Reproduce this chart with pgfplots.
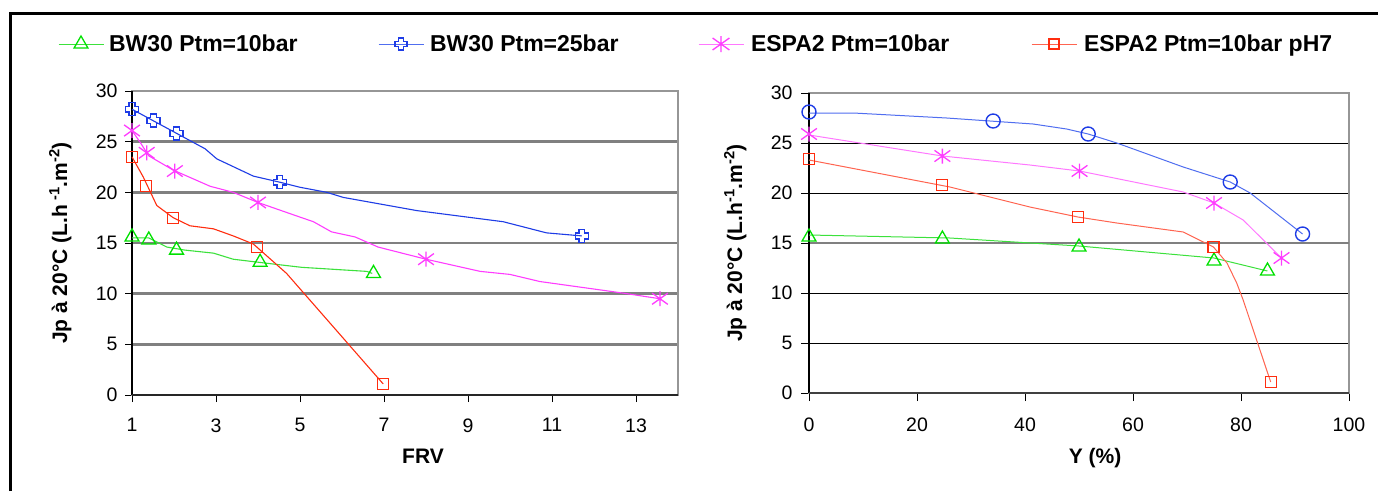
\documentclass[border=0pt]{standalone}
\usepackage{pgfplots}
\pgfplotsset{compat=1.18}
\usepackage{fontspec}
\setmainfont{Liberation Sans}
\definecolor{cgreen}{RGB}{0,225,0}
\definecolor{cgreenl}{RGB}{60,225,60}
\definecolor{cblue}{RGB}{30,60,230}
\definecolor{cbluel}{RGB}{80,110,240}
\definecolor{cmag}{RGB}{255,60,255}
\definecolor{cmagl}{RGB}{255,120,255}
\definecolor{cred}{RGB}{255,45,15}
\definecolor{credl}{RGB}{255,100,80}
\definecolor{gridgray}{RGB}{128,128,128}
\definecolor{bordergray}{RGB}{150,150,150}

\pgfdeclareplotmark{plusoutline}{%
  \pgfpathmoveto{\pgfqpoint{-0.45\pgfplotmarksize}{\pgfplotmarksize}}%
  \pgfpathlineto{\pgfqpoint{0.45\pgfplotmarksize}{\pgfplotmarksize}}%
  \pgfpathlineto{\pgfqpoint{0.45\pgfplotmarksize}{0.45\pgfplotmarksize}}%
  \pgfpathlineto{\pgfqpoint{\pgfplotmarksize}{0.45\pgfplotmarksize}}%
  \pgfpathlineto{\pgfqpoint{\pgfplotmarksize}{-0.45\pgfplotmarksize}}%
  \pgfpathlineto{\pgfqpoint{0.45\pgfplotmarksize}{-0.45\pgfplotmarksize}}%
  \pgfpathlineto{\pgfqpoint{0.45\pgfplotmarksize}{-\pgfplotmarksize}}%
  \pgfpathlineto{\pgfqpoint{-0.45\pgfplotmarksize}{-\pgfplotmarksize}}%
  \pgfpathlineto{\pgfqpoint{-0.45\pgfplotmarksize}{-0.45\pgfplotmarksize}}%
  \pgfpathlineto{\pgfqpoint{-\pgfplotmarksize}{-0.45\pgfplotmarksize}}%
  \pgfpathlineto{\pgfqpoint{-\pgfplotmarksize}{0.45\pgfplotmarksize}}%
  \pgfpathlineto{\pgfqpoint{-0.45\pgfplotmarksize}{0.45\pgfplotmarksize}}%
  \pgfpathclose\pgfusepathqstroke}
\pgfdeclareplotmark{xstar}{%
  \pgfpathmoveto{\pgfqpoint{0pt}{\pgfplotmarksize}}%
  \pgfpathlineto{\pgfqpoint{0pt}{-\pgfplotmarksize}}%
  \pgfpathmoveto{\pgfqpoint{-1.05\pgfplotmarksize}{0.75\pgfplotmarksize}}%
  \pgfpathlineto{\pgfqpoint{1.05\pgfplotmarksize}{-0.75\pgfplotmarksize}}%
  \pgfpathmoveto{\pgfqpoint{-1.05\pgfplotmarksize}{-0.75\pgfplotmarksize}}%
  \pgfpathlineto{\pgfqpoint{1.05\pgfplotmarksize}{0.75\pgfplotmarksize}}%
  \pgfusepathqstroke}

\pgfplotsset{
  myaxis/.style={
    scale only axis,
    ymin=0, ymax=30, ytick={0,5,...,30},
    tick align=outside, xtick pos=left, ytick pos=left,
    major tick length=7pt,
    tick style={black, line width=1pt},
    axis line style={bordergray, line width=1.5pt},
    ymajorgrids,
    ticklabel style={font=\fontsize{19.5}{22}\selectfont},
    /pgf/number format/assume math mode=true,
    xticklabel style={yshift=-13pt},
    clip=false,
  },
  gmark/.style={only marks, mark=triangle, mark size=8pt, cgreen, mark options={line width=1.3pt}, forget plot},
  bmark/.style={only marks, mark=plusoutline, mark size=6.5pt, cblue, mark options={line width=1.4pt}, forget plot},
  bcirc/.style={only marks, mark=o, mark size=7pt, cblue, mark options={line width=1.4pt}, forget plot},
  mmark/.style={only marks, mark=xstar, mark size=7.5pt, cmag, mark options={line width=1.3pt}, forget plot},
  rmark/.style={only marks, mark=square, mark size=5.5pt, cred, mark options={line width=1.3pt}, forget plot},
}

\begin{document}
\begin{tikzpicture}[x=1pt,y=1pt]
\useasboundingbox (0,0) rectangle (1378,-491);
\fill[white] (0,0) rectangle (1378,-491);
\draw[black, line width=3pt] (10,-491) -- (10,-13) -- (1378,-13);

% ---------------- left axis ----------------
\begin{axis}[myaxis,
  at={(132pt,-395pt)}, anchor=south west,
  width=546pt, height=304pt,
  xmin=1, xmax=14, xtick={1,3,...,13},
  major grid style={gridgray, line width=2.5pt},
  yticklabel style={xshift=-4pt},
  legend columns=4, legend cell align=left,
  legend style={draw=none, fill=none, inner sep=0pt, outer sep=0pt,
    column sep=0pt, at={(-0.13553,1.1546)}, anchor=west,
    font=\bfseries\fontsize{23}{26}\selectfont,
    nodes={inner sep=0pt}},
  legend image code/.code={\draw[#1, mark repeat=2, mark phase=2] plot coordinates {(0pt,0pt) (22.5pt,0pt) (45pt,0pt)};},
]
\addlegendimage{cgreenl, line width=1pt, mark=triangle, mark size=8pt, mark options={cgreen, line width=1.3pt}}
\addlegendentry{\makebox[274pt][l]{\hspace*{5pt}BW30 Ptm=10bar}}
\addlegendimage{cbluel, line width=1pt, mark=plusoutline, mark size=6pt, mark options={cblue, line width=1.4pt}}
\addlegendentry{\makebox[274pt][l]{\hspace*{6pt}BW30 Ptm=25bar}}
\addlegendimage{cmagl, line width=1pt, mark=xstar, mark size=8pt, mark options={cmag, line width=1.3pt}}
\addlegendentry{\makebox[287pt][l]{\hspace*{7pt}ESPA2 Ptm=10bar}}
\addlegendimage{credl, line width=1pt, mark=square, mark size=5pt, mark options={cred, line width=1.3pt}}
\addlegendentry{\hspace*{7pt}ESPA2 Ptm=10bar pH7}

\draw[black, line width=1.2pt] (rel axis cs:0,0) -- (rel axis cs:0,1);
\draw[black!85, line width=2pt] (rel axis cs:0,0) -- (rel axis cs:1,0);

% green BW30 10 bar
\addplot[cgreenl, line width=1.1pt, forget plot] coordinates {
(1,15.5) (1.40,15.5) (1.83,14.6) (2.26,14.3) (2.94,14.0) (3.41,13.4) (4.21,13.0) (5.04,12.6) (6.59,12.2) (6.72,12.0)};
\addplot[gmark] coordinates {(1,15.6) (1.40,15.3) (2.06,14.3) (4.05,13.1) (6.75,12.0)};
% blue BW30 25 bar
\addplot[cblue, line width=1.1pt, forget plot] coordinates {
(1,28.2) (2.74,24.3) (3.02,23.3) (3.89,21.6) (4.52,21.0) (5.0,20.5) (5.64,20.0) (6.03,19.5) (7.78,18.2) (9.84,17.1) (10.87,16.0) (11.71,15.7)};
\addplot[bmark] coordinates {(1.0,28.2) (1.51,27.1) (2.06,25.8) (4.52,21.0) (11.71,15.7)};
% magenta ESPA2 10 bar
\addplot[cmag, line width=1.1pt, forget plot] coordinates {
(1,26.1) (1.2,24.9) (1.4,23.6) (1.98,22.2) (2.86,20.6) (3.41,20.0) (4.0,19.0) (4.9,17.7) (5.32,17.1) (5.75,16.1) (6.31,15.6) (6.86,14.6) (8.0,13.4) (9.29,12.2) (10.0,11.9) (10.71,11.2) (12.62,10.1) (13.57,9.5)};
\addplot[mmark] coordinates {(1.0,26.1) (1.35,23.9) (2.02,22.1) (4.0,19.0) (8.0,13.4) (13.57,9.5)};
% red ESPA2 10 bar pH7
\addplot[cred, line width=1.1pt, forget plot] coordinates {
(1,23.5) (1.27,21.5) (1.59,18.7) (1.98,17.5) (2.38,16.7) (2.94,16.4) (3.41,15.7) (3.89,14.9) (4.68,12.0) (6.98,1.1)};
\addplot[rmark] coordinates {(1.0,23.5) (1.33,20.6) (1.98,17.5) (3.97,14.6) (6.98,1.1)};
\end{axis}

% ---------------- right axis ----------------
\begin{axis}[myaxis,
  at={(809pt,-393pt)}, anchor=south west,
  width=540pt, height=300pt,
  xmin=0, xmax=100, xtick={0,20,...,100},
  major tick length=8pt,
  major grid style={black, line width=1pt},
  yticklabel style={xshift=-5pt},
]
\draw[gridgray, line width=2.5pt] (axis cs:0,15) -- (axis cs:100,15);
\draw[black, line width=1.2pt] (rel axis cs:0,0) -- (rel axis cs:0,1);
\draw[black!75, line width=1.5pt] (rel axis cs:0,0) -- (rel axis cs:1,0);

% green
\addplot[cgreenl, line width=1pt, forget plot] coordinates {
(0,15.8) (26.1,15.5) (50,14.7) (75,13.5) (84.9,12.2)};
\addplot[gmark] coordinates {(0,15.6) (24.7,15.4) (50,14.6) (75,13.2) (84.9,12.2)};
% blue
\addplot[cbluel, line width=1pt, forget plot] coordinates {
(0,28.0) (8.2,28.0) (25.5,27.5) (41.5,26.9) (47.7,26.4) (51.7,25.9) (57.0,25.0) (69.3,22.6) (78.0,21.1) (81.7,20.0) (91.4,15.9)};
\addplot[bcirc] coordinates {(0,28.1) (34.1,27.2) (51.7,25.9) (78.0,21.1) (91.4,15.9)};
% magenta
\addplot[cmagl, line width=1pt, forget plot] coordinates {
(0,25.8) (24.7,23.7) (40.9,22.8) (50.1,22.2) (69.3,20.1) (75.0,19.0) (80.4,17.3) (87.5,13.5)};
\addplot[mmark] coordinates {(0,25.9) (24.7,23.7) (50.1,22.2) (75.0,19.0) (87.5,13.5)};
% red
\addplot[credl, line width=1pt, forget plot] coordinates {
(0,23.3) (26.1,20.6) (40.9,18.6) (49.8,17.6) (57,17.0) (69.3,16.1) (74.9,14.6) (77.4,13.0) (79.2,11.0) (80.4,9.3) (85.5,1.1)};
\addplot[rmark] coordinates {(0,23.4) (24.6,20.8) (49.8,17.6) (74.9,14.6) (85.5,1.1)};
\end{axis}

% axis titles
\node[font=\bfseries\fontsize{21}{24}\selectfont, anchor=base] at (423,-463) {FRV};
\node[font=\bfseries\fontsize{21}{24}\selectfont, anchor=base] at (1095,-463) {Y (\%)};
\node[font=\bfseries\fontsize{21}{24}\selectfont, rotate=90, anchor=base] at (67,-243) {Jp à 20°C (L.h\textsuperscript{ -1}.m\textsuperscript{-2})};
\node[font=\bfseries\fontsize{21}{24}\selectfont, rotate=90, anchor=base] at (742,-243) {Jp à 20°C (L.h\textsuperscript{-1}.m\textsuperscript{-2})};
\end{tikzpicture}
\end{document}
